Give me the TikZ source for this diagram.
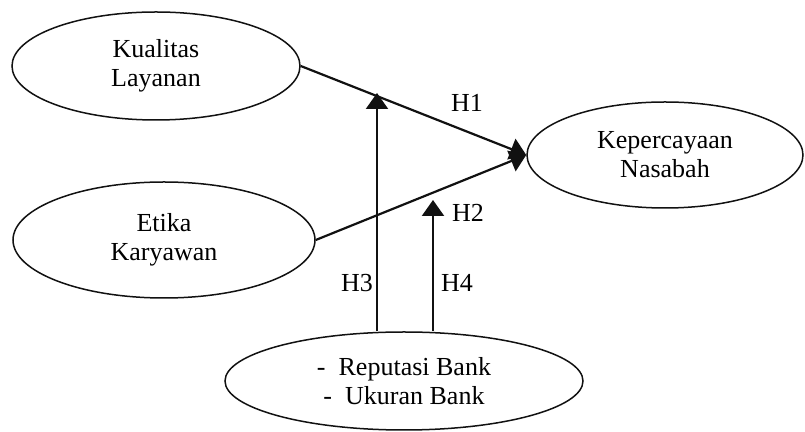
\documentclass[tikz,border=0pt]{standalone}
\usepackage{fontspec}
\setmainfont{Liberation Serif}
\usepackage{tikz}
\usetikzlibrary{arrows.meta,positioning,calc,shapes.geometric}
\definecolor{ln}{HTML}{111111}
\tikzset{
  var/.style={draw=ln, ellipse, line width=0.75pt, inner sep=0pt, align=center,
    font=\fontsize{13}{14.5}\selectfont},
  hyp/.style={draw=ln, line width=1.1pt, -{Triangle[length=8pt,width=11pt]}},
  lbl/.style={font=\fontsize{13}{14.5}\selectfont, inner sep=0pt}
}

\begin{document}
\begin{tikzpicture}[x=0.5pt, y=-0.5pt]
  \useasboundingbox (0,0) rectangle (805,432);
  % latent variables
  \node[var, minimum width=144pt, minimum height=54pt] (kl) at (156,66) {Kualitas\\Layanan};
  \node[var, minimum width=151pt, minimum height=58pt] (ek) at (164,240) {Etika\\Karyawan};
  \node[var, minimum width=138pt, minimum height=53pt] (kn) at (665,155) {Kepercayaan\\Nasabah};
  \node[var, minimum width=179pt, minimum height=49pt] (rb) at (404,381)
    {-\enspace Reputasi Bank\\-\enspace Ukuran Bank};
  % moderating arrow tips
  \coordinate (h3t) at (377,93);
  \coordinate (h4t) at (433,200);
  % paths
  \draw[hyp] (kl.east) -- (kn.west);
  \draw[hyp] (ek.east) -- (kn.west);
  \draw[hyp] (rb.north -| h3t) -- (h3t);
  \draw[hyp] (rb.north -| h4t) -- (h4t);
  % hypotheses
  \node[lbl] (h1) at (467,103) {H1};
  \node[lbl] (h2) at (468,213) {H2};
  \node[lbl] (h3) at (357,283) {H3};
  \node[lbl] (h4) at (457,283) {H4};
\end{tikzpicture}
\end{document}
